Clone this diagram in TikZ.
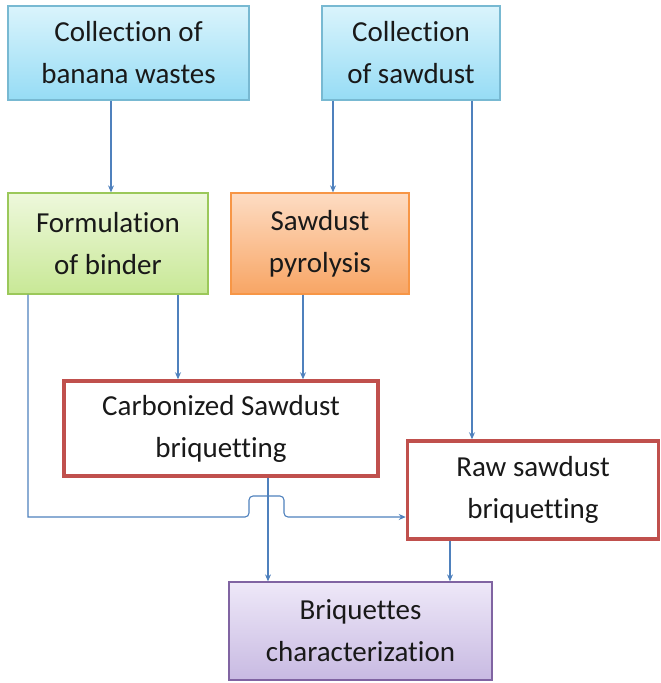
\documentclass[tikz,border=0pt]{standalone}
\usepackage{fontspec}
\setmainfont[Ligatures=NoCommon]{Carlito}
\usetikzlibrary{arrows.meta}
\definecolor{arrowblue}{RGB}{79,129,189}
\definecolor{txt}{RGB}{25,25,25}
\definecolor{bluetop}{RGB}{218,244,252}
\definecolor{bluebot}{RGB}{150,220,245}
\definecolor{blueedge}{RGB}{120,185,210}
\definecolor{greentop}{RGB}{238,248,220}
\definecolor{greenbot}{RGB}{200,232,150}
\definecolor{greenedge}{RGB}{155,200,90}
\definecolor{orangetop}{RGB}{253,220,195}
\definecolor{orangebot}{RGB}{248,165,100}
\definecolor{orangeedge}{RGB}{247,150,70}
\definecolor{purpletop}{RGB}{238,232,248}
\definecolor{purplebot}{RGB}{200,186,226}
\definecolor{purpleedge}{RGB}{128,100,162}
\definecolor{rededge}{RGB}{192,80,77}
\tikzset{
  x=1pt, y=-1pt,
  box/.style={rectangle, align=center, text=txt, inner sep=0pt,
    font=\fontsize{29}{42}\selectfont, line width=1.3pt},
  bluebox/.style={box, draw=blueedge, top color=bluetop, bottom color=bluebot},
  greenbox/.style={box, draw=greenedge, top color=greentop, bottom color=greenbot},
  orangebox/.style={box, draw=orangeedge, top color=orangetop, bottom color=orangebot},
  purplebox/.style={box, draw=purpleedge, top color=purpletop, bottom color=purplebot},
  redbox/.style={box, draw=rededge, fill=white, line width=3.5pt},
  arr/.style={draw=arrowblue, line width=1.1pt, -{Stealth[length=7pt,width=6pt]}},
}
\begin{document}
\begin{tikzpicture}
\useasboundingbox (0,0) rectangle (661,683);
\node[bluebox, minimum width=241pt, minimum height=94pt] (b1) at (128.5,53) {Collection of\\banana wastes};
\node[bluebox, minimum width=178pt, minimum height=94pt] (b2) at (411,53) {Collection\\of sawdust};
\node[greenbox, minimum width=200pt, minimum height=101pt] (b3) at (108,243.5) {Formulation\\of binder};
\node[orangebox, minimum width=178pt, minimum height=101pt] (b4) at (320,243.5) {Sawdust\\pyrolysis};
\node[redbox, minimum width=314pt, minimum height=95pt] (b5) at (221,428.5) {Carbonized Sawdust\\briquetting};
\node[redbox, minimum width=251pt, minimum height=98pt] (b6) at (533,490) {Raw sawdust\\briquetting};
\node[purplebox, minimum width=263pt, minimum height=98pt] (b7) at (360.5,631) {Briquettes\\characterization};

\draw[arr] (b1.south -| 111,0) -- (b3.north -| 111,0);
\draw[arr] (b2.south -| 333,0) -- (b4.north -| 333,0);
\draw[arr] (b2.south -| 472,0) -- (b6.north -| 472,0);
\draw[arr] (b3.south -| 178,0) -- (b5.north -| 178,0);
\draw[arr] (b4.south -| 303,0) -- (b5.north -| 303,0);
\draw[arr] (b5.south -| 268,0) -- (b7.north -| 268,0);
\draw[arr] (b6.south -| 450,0) -- (b7.north -| 450,0);
\draw[arr] (b3.south -| 28,0) -- (28,517) -- (244,517) [rounded corners=4pt] -- (249,517) -- (249,496) -- (284,496) -- (284,517) [sharp corners] -- (289,517) -- (b6.west |- 0,517);
\end{tikzpicture}
\end{document}
